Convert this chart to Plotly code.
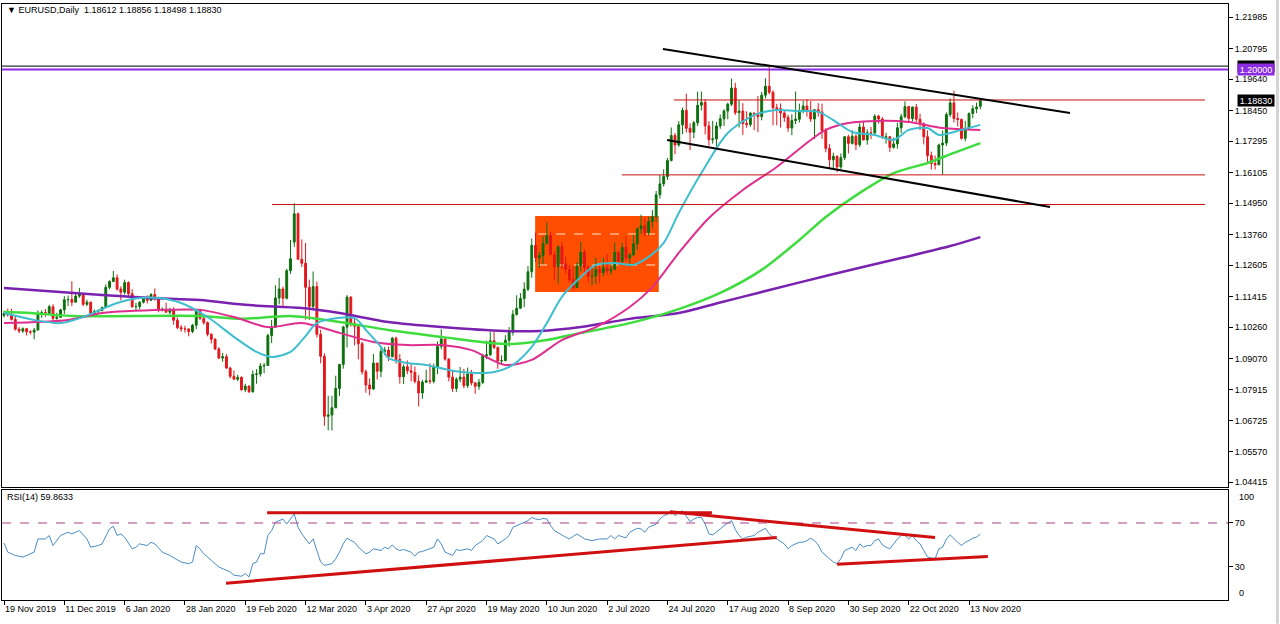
import pandas as pd
import plotly.graph_objects as go

# ---------------- DATA ----------------
bdays = pd.bdate_range("2019-11-19", "2020-11-18")
bdays = bdays[~bdays.isin(pd.to_datetime(["2019-12-25", "2020-01-01"]))]
dates = list(bdays)
bars = list(range(len(dates)))

open_ = [
 1.1071,1.1078,1.1073,1.1056,1.1019,1.1012,1.1021,1.1009,1.1008,
 1.1016,1.1078,1.1082,1.1078,1.1104,1.1060,1.1064,1.1092,1.1130,1.1131,1.1121,1.1144,1.1150,1.1113,1.1121,1.1077,1.1087,1.1090,1.1101,1.1177,1.1199,
 1.1213,1.1171,1.1159,1.1195,1.1153,1.1104,1.1105,1.1121,1.1135,1.1128,1.1150,1.1136,1.1091,1.1094,1.1083,1.1093,1.1053,1.1025,1.1020,1.1020,1.1010,1.1034,
 1.1093,1.1060,1.1044,1.1000,1.0981,1.0944,1.0910,1.0915,1.0872,1.0841,1.0830,1.0837,1.0790,1.0804,1.0783,1.0848,1.0850,1.0880,1.0882,1.0995,
 1.1026,1.1137,1.1171,1.1136,1.1240,1.1348,1.1455,1.1283,1.1268,1.1177,1.1105,1.1180,1.1000,1.0917,1.0690,1.0695,1.0722,1.0795,1.0886,1.1027,1.1140,1.1042,
 1.1030,1.0964,1.0858,1.0808,1.0793,1.0891,1.0860,1.0935,1.0940,1.0915,1.0985,1.0905,1.0839,1.0877,1.0862,1.0856,1.0822,1.0778,1.0819,1.0824,1.0822,1.0875,
 1.0954,1.0982,1.0906,1.0838,1.0795,1.0830,1.0838,1.0806,1.0850,1.0816,1.0803,1.0818,1.0918,1.0922,1.0975,1.0950,1.0899,1.0900,1.0977,1.1008,1.1075,
 1.1098,1.1135,1.1170,1.1236,1.1336,1.1289,1.1297,1.1342,1.1373,1.1300,1.1256,1.1330,1.1265,1.1245,1.1206,1.1176,1.1258,1.1309,1.1252,1.1219,1.1220,1.1244,
 1.1233,1.1251,1.1239,1.1245,1.1310,1.1275,1.1328,1.1288,1.1300,1.1342,1.1398,1.1410,1.1384,1.1426,1.1444,1.1527,1.1568,1.1596,1.1656,1.1751,1.1715,1.1791,1.1846,
 1.1778,1.1763,1.1799,1.1865,1.1876,1.1787,1.1735,1.1738,1.1787,1.1814,1.1843,1.1869,1.1930,1.1837,1.1843,1.1796,1.1792,1.1835,1.1830,1.1822,1.1903,
 1.1937,1.1914,1.1856,1.1852,1.1836,1.1819,1.1779,1.1807,1.1812,1.1845,1.1862,1.1845,1.1813,1.1848,1.1840,1.1770,1.1702,1.1659,1.1672,1.1632,1.1667,1.1746,
 1.1721,1.1748,1.1716,1.1783,1.1734,1.1761,1.1760,1.1824,1.1813,1.1743,1.1746,1.1706,1.1719,1.1780,1.1822,1.1860,1.1815,1.1858,1.1812,1.1795,1.1746,1.1675,
 1.1645,1.1640,1.1715,1.1722,1.1830,1.1874,1.1815,1.1811,1.1740,1.1778,1.1834,1.1852,1.18612]

high = [
 1.1089,1.1097,1.1096,1.1072,1.1027,1.1026,1.1023,1.1015,1.1024,
 1.1090,1.1090,1.1095,1.1111,1.1113,1.1081,1.1096,1.1144,1.1146,1.1200,1.1154,1.1175,1.1152,1.1130,1.1123,1.1093,1.1093,1.1104,1.1188,1.1204,1.1239,
 1.1226,1.1181,1.1206,1.1200,1.1170,1.1118,1.1125,1.1139,1.1147,1.1155,1.1173,1.1142,1.1101,1.1119,1.1100,1.1102,1.1063,1.1035,1.1032,1.1023,1.1039,1.1096,
 1.1096,1.1064,1.1048,1.1003,1.0985,1.0951,1.0929,1.0925,1.0877,1.0863,1.0847,1.0841,1.0813,1.0807,1.0863,1.0868,1.0891,1.0892,1.1002,1.1054,
 1.1185,1.1213,1.1180,1.1247,1.1356,1.1495,1.1460,1.1358,1.1345,1.1206,1.1237,1.1199,1.1017,1.0928,1.0768,1.0767,1.0843,1.0887,1.1032,1.1148,1.1144,1.1060,
 1.1031,1.0972,1.0867,1.0833,1.0925,1.0892,1.0952,1.0952,1.0954,1.0990,1.0991,1.0925,1.0886,1.0901,1.0887,1.0878,1.0845,1.0828,1.0866,1.0890,1.0889,1.0973,
 1.1019,1.0989,1.0909,1.0860,1.0837,1.0876,1.0869,1.0874,1.0865,1.0820,1.0831,1.0926,1.0976,1.1009,1.1008,1.0953,1.0920,1.0996,1.1027,1.1092,1.1147,
 1.1155,1.1196,1.1258,1.1362,1.1384,1.1311,1.1369,1.1422,1.1386,1.1314,1.1337,1.1349,1.1293,1.1260,1.1256,1.1272,1.1349,1.1320,1.1262,1.1247,1.1289,1.1259,
 1.1289,1.1303,1.1263,1.1346,1.1315,1.1345,1.1371,1.1307,1.1375,1.1403,1.1452,1.1440,1.1444,1.1469,1.1541,1.1601,1.1623,1.1666,1.1781,1.1760,1.1805,1.1856,1.1909,
 1.1797,1.1806,1.1916,1.1917,1.1888,1.1805,1.1806,1.1802,1.1830,1.1850,1.1875,1.1966,1.1950,1.1884,1.1873,1.1842,1.1840,1.1838,1.1900,1.1915,1.1967,
 1.2011,1.1921,1.1870,1.1872,1.1845,1.1829,1.1831,1.1917,1.1871,1.1882,1.1888,1.1881,1.1851,1.1873,1.1871,1.1778,1.1718,1.1686,1.1676,1.1683,1.1749,1.1754,
 1.1771,1.1755,1.1797,1.1806,1.1774,1.1783,1.1831,1.1829,1.1821,1.1761,1.1749,1.1743,1.1799,1.1833,1.1880,1.1862,1.1860,1.1870,1.1833,1.1800,1.1770,1.1690,
 1.1675,1.1720,1.1770,1.1838,1.1891,1.1920,1.1838,1.1815,1.1806,1.1838,1.1865,1.1875,1.18856]

low = [
 1.1063,1.1066,1.1052,1.1014,1.1004,1.1005,1.0995,1.0999,1.0981,
 1.1014,1.1062,1.1066,1.1073,1.1040,1.1055,1.1064,1.1076,1.1107,1.1106,1.1120,1.1137,1.1106,1.1106,1.1066,1.1069,1.1080,1.1086,1.1100,1.1170,1.1198,
 1.1164,1.1128,1.1150,1.1144,1.1099,1.1089,1.1094,1.1116,1.1116,1.1126,1.1127,1.1083,1.1086,1.1082,1.1075,1.1036,1.1019,1.1009,1.1006,1.0992,1.1004,1.1019,
 1.1054,1.1036,1.0992,1.0965,1.0941,1.0906,1.0896,1.0870,1.0833,1.0827,1.0823,1.0787,1.0781,1.0778,1.0779,1.0813,1.0840,1.0853,1.0880,1.0967,
 1.1026,1.1113,1.1108,1.1131,1.1228,1.1330,1.1283,1.1254,1.1055,1.1054,1.1095,1.0988,1.0890,1.0654,1.0637,1.0636,1.0722,1.0767,1.0870,1.0950,1.1029,1.0958,
 1.0905,1.0847,1.0779,1.0769,1.0790,1.0829,1.0838,1.0921,1.0899,1.0913,1.0889,1.0813,1.0812,1.0849,1.0822,1.0814,1.0727,1.0756,1.0816,1.0812,1.0814,1.0849,
 1.0943,1.0900,1.0822,1.0782,1.0782,1.0818,1.0796,1.0797,1.0807,1.0775,1.0790,1.0812,1.0906,1.0918,1.0944,1.0870,1.0885,1.0898,1.0953,1.0995,1.1070,
 1.1096,1.1102,1.1163,1.1213,1.1273,1.1251,1.1264,1.1339,1.1300,1.1205,1.1191,1.1246,1.1229,1.1196,1.1168,1.1175,1.1237,1.1236,1.1197,1.1185,1.1190,1.1192,
 1.1219,1.1225,1.1225,1.1243,1.1262,1.1261,1.1276,1.1254,1.1295,1.1318,1.1379,1.1370,1.1373,1.1402,1.1425,1.1512,1.1558,1.1583,1.1653,1.1680,1.1708,1.1756,1.1762,
 1.1696,1.1740,1.1787,1.1845,1.1755,1.1712,1.1720,1.1710,1.1776,1.1787,1.1812,1.1862,1.1828,1.1781,1.1753,1.1780,1.1784,1.1771,1.1763,1.1808,1.1891,
 1.1906,1.1789,1.1789,1.1781,1.1802,1.1765,1.1752,1.1794,1.1800,1.1834,1.1822,1.1802,1.1737,1.1822,1.1738,1.1687,1.1627,1.1627,1.1612,1.1625,1.1658,1.1683,
 1.1717,1.1696,1.1707,1.1733,1.1716,1.1737,1.1758,1.1796,1.1738,1.1720,1.1689,1.1701,1.1701,1.1760,1.1816,1.1801,1.1804,1.1801,1.1771,1.1717,1.1650,1.1622,
 1.1622,1.1639,1.1602,1.1711,1.1820,1.1800,1.1785,1.1735,1.1729,1.1772,1.1816,1.1835,1.18498]

close = [
 1.1078,1.1073,1.1056,1.1019,1.1012,1.1021,1.1009,1.1008,1.1016,
 1.1078,1.1082,1.1078,1.1104,1.1060,1.1064,1.1092,1.1130,1.1131,1.1121,1.1144,1.1150,1.1113,1.1121,1.1077,1.1087,1.1090,1.1101,1.1177,1.1199,1.1213,
 1.1171,1.1159,1.1195,1.1153,1.1104,1.1105,1.1121,1.1135,1.1128,1.1150,1.1136,1.1091,1.1094,1.1083,1.1093,1.1053,1.1025,1.1020,1.1020,1.1010,1.1034,1.1093,
 1.1060,1.1044,1.1000,1.0981,1.0944,1.0910,1.0915,1.0872,1.0841,1.0830,1.0837,1.0790,1.0804,1.0783,1.0848,1.0850,1.0880,1.0882,1.0995,1.1026,
 1.1137,1.1171,1.1136,1.1240,1.1285,1.1455,1.1283,1.1268,1.1177,1.1105,1.1180,1.1000,1.0917,1.0690,1.0695,1.0722,1.0795,1.0886,1.1027,1.1140,1.1042,1.1030,
 1.0964,1.0858,1.0808,1.0793,1.0891,1.0860,1.0935,1.0940,1.0915,1.0985,1.0905,1.0839,1.0877,1.0862,1.0856,1.0822,1.0778,1.0819,1.0824,1.0822,1.0875,1.0954,
 1.0982,1.0906,1.0838,1.0795,1.0830,1.0838,1.0806,1.0850,1.0816,1.0803,1.0818,1.0918,1.0922,1.0975,1.0950,1.0899,1.0900,1.0977,1.1008,1.1075,1.1098,
 1.1135,1.1170,1.1236,1.1336,1.1289,1.1297,1.1342,1.1373,1.1300,1.1256,1.1330,1.1265,1.1245,1.1206,1.1176,1.1258,1.1309,1.1252,1.1219,1.1220,1.1244,1.1233,
 1.1251,1.1239,1.1245,1.1310,1.1275,1.1328,1.1288,1.1300,1.1342,1.1398,1.1410,1.1384,1.1426,1.1444,1.1527,1.1568,1.1596,1.1656,1.1751,1.1715,1.1791,1.1846,1.1778,
 1.1763,1.1799,1.1865,1.1876,1.1787,1.1735,1.1738,1.1787,1.1814,1.1843,1.1869,1.1930,1.1837,1.1843,1.1796,1.1792,1.1835,1.1830,1.1822,1.1903,1.1937,
 1.1914,1.1856,1.1852,1.1836,1.1819,1.1779,1.1807,1.1812,1.1845,1.1862,1.1845,1.1813,1.1848,1.1840,1.1770,1.1702,1.1659,1.1672,1.1632,1.1667,1.1746,1.1721,
 1.1748,1.1716,1.1783,1.1734,1.1761,1.1760,1.1824,1.1813,1.1743,1.1746,1.1706,1.1719,1.1780,1.1822,1.1860,1.1815,1.1858,1.1812,1.1795,1.1746,1.1675,1.1645,
 1.1640,1.1715,1.1722,1.1830,1.1874,1.1815,1.1811,1.1740,1.1778,1.1834,1.1852,1.1858,1.18830]

# moving averages: (bar, value)
ma_cyan_bar = [0,8,15,21,30,36,41,47,54,61,67,71,76,80,83,93,96,100,102,107,112,118,124,130,135,140,144,148,153,157,162,167,171,175,179,185,192,199,205,210,216,220,225,231,236,240,245,248,254,259]
ma_cyan_val = [1.1080,1.1054,1.1042,1.1065,1.1118,1.1137,1.1137,1.1118,1.1065,1.0990,1.0933,1.0914,1.0933,1.0993,1.1042,1.1061,1.1016,1.0952,1.0910,1.0891,1.0884,1.0865,1.0854,1.0857,1.0884,1.0952,1.1042,1.1141,1.1216,1.1262,1.1269,1.1262,1.1292,1.1345,1.1458,1.1609,1.1760,1.1828,1.1847,1.1843,1.1840,1.1809,1.1764,1.1753,1.1734,1.1772,1.1779,1.1753,1.1772,1.1791]
ma_pink_bar = [0,17,26,43,52,61,70,79,89,98,107,116,124,133,140,148,157,166,172,179,187,196,205,214,218,224,232,240,249,259]
ma_pink_val = [1.1042,1.1054,1.1080,1.1092,1.1092,1.1065,1.1027,1.1042,1.1005,1.0971,1.0959,1.0959,1.0940,1.0884,1.0903,1.0978,1.1027,1.1103,1.1178,1.1307,1.1439,1.1545,1.1632,1.1734,1.1772,1.1798,1.1806,1.1802,1.1779,1.1772]
ma_green_bar = [0,7,18,52,63,76,89,102,116,129,135,144,153,166,179,190,201,211,218,227,236,245,252,259]
ma_green_val = [1.1084,1.1080,1.1069,1.1069,1.1058,1.1069,1.1046,1.1016,1.0990,1.0967,1.0963,1.0978,1.1005,1.1042,1.1095,1.1156,1.1243,1.1356,1.1443,1.1534,1.1609,1.1647,1.1685,1.1722]
ma_purple_bar = [0,26,39,52,65,79,89,102,116,133,142,153,166,179,190,200,219,238,251,259]
ma_purple_val = [1.1175,1.1148,1.1137,1.1129,1.1110,1.1099,1.1080,1.1046,1.1027,1.1012,1.1012,1.1027,1.1058,1.1080,1.1120,1.1156,1.1224,1.1288,1.1333,1.1367]

# RSI(14)
rsi_bar = [0,1,3,5,8,9,11,12,13,15,17,18,20,22,23,25,26,28,29,30,31,32,34,35,36,38,39,40,42,43,44,47,49,50,51,52,53,55,57,60,61,63,64,65,66,67,68,69,70,71,72,74,75,76,77,78,79,81,82,83,84,85,86,87,88,89,90,91,92,93,94,96,97,98,100,101,102,103,104,105,106,108,109,110,111,114,115,116,117,119,120,121,123,124,125,127,128,130,131,133,134,135,137,139,140,141,142,143,144,145,146,148,149,150,152,154,156,158,160,161,162,163,165,166,168,
           169,170,171,173,174,175,176,177,178,179,180,181,182,183,184,185,186,187,188,190,191,193,194,195,196,197,199,200,202,203,204,205,207,208,209,211,212,213,214,215,216,217,219,220,221,222,223,224,225,226,227,228,229,230,231,232,233,234,235,236,237,238,239,240,241,242,243,244,245,247,248,249,250,251,252,253,254,255,256,257,258,259]
rsi_val = [51.9,43.5,40.5,39.0,43.5,55.5,55.5,58.6,49.5,58.6,61.6,60.1,63.1,55.5,48.0,49.5,51.0,64.6,67.0,58.6,60.1,57.1,46.5,48.0,51.0,49.5,52.5,51.0,43.5,42.0,40.5,34.5,33.0,34.5,49.5,46.5,42.0,36.0,30.0,25.5,22.5,21.6,24.0,21.0,33.0,34.5,42.0,42.0,58.6,63.1,70.6,73.6,69.1,73.6,78.1,66.1,60.1,51.0,55.5,45.0,34.5,31.5,32.1,33.0,37.5,43.5,51.0,56.2,54.1,52.5,48.0,42.0,43.5,46.5,45.0,48.0,46.5,50.1,46.5,45.0,45.9,43.5,39.9,43.5,44.1,48.0,55.5,51.0,43.5,40.5,45.9,45.0,46.5,45.0,49.5,54.0,58.6,55.5,51.0,55.5,58.6,66.1,69.1,72.1,75.1,73.6,73.0,74.2,73.6,67.6,63.1,58.6,57.1,55.5,60.1,55.5,54.0,55.5,55.5,58.6,55.5,58.6,56.5,61.6,65.2,
           64.6,61.6,66.1,69.1,73.6,76.6,78.1,81.1,76.6,79.6,81.1,76.6,71.2,73.6,75.1,75.1,69.1,60.1,59.2,64.6,67.6,72.1,64.0,58.6,55.5,57.1,58.6,61.6,65.2,60.1,57.1,55.5,51.0,46.5,49.5,52.5,52.5,54.0,56.2,54.0,50.0,43.5,37.5,34.5,33.0,37.5,45.0,46.5,48.0,45.0,51.0,48.0,49.5,49.5,54.0,55.5,50.0,48.0,46.5,51.0,55.5,58.6,58.6,55.5,58.6,54.0,51.0,45.0,39.0,37.5,46.5,48.0,55.5,59.2,55.5,52.5,49.5,52.5,54.0,56.2,57.1,59.9]

tick_bars = [0,16,32,48,64,80,96,112,128,144,160,176,192,208,224,240,256]
tick_labels = ["19 Nov 2019","11 Dec 2019","6 Jan 2020","28 Jan 2020","19 Feb 2020","12 Mar 2020",
               "3 Apr 2020","27 Apr 2020","19 May 2020","10 Jun 2020","2 Jul 2020","24 Jul 2020",
               "17 Aug 2020","8 Sep 2020","30 Sep 2020","22 Oct 2020","13 Nov 2020"]
price_ticks = [1.21985,1.20795,1.19640,1.18450,1.17295,1.16105,1.14950,1.13760,1.12605,
               1.11415,1.10260,1.09070,1.07915,1.06725,1.05570,1.04415]

# drawn objects (bar, price)
level_purple = 1.2000
level_black = 1.2013
red_levels = [(177.7, 1.1885), (163.9, 1.1602), (71.1, 1.1490)]
red_level_end = 318.6
upper_trend = [(174.8, 1.20776), (282.8, 1.18358)]
lower_trend = [(175.9, 1.17338), (277.5, 1.14807)]
box = dict(b0=140.9, b1=173.7, p0=1.11596, p1=1.14467)
box_dash = [1.13787, 1.12616]
rsi_lines = [((69.8, 79.3), (187.8, 79.3)), ((58.9, 15.3), (205.0, 56.8)),
             ((176.7, 80.2), (247.0, 56.8)), ((221.0, 32.4), (261.0, 39.6))]

# ---------------- FIGURE ----------------
FONT = "Liberation Sans"
GREEN_C = "#0C700C"
RED_C = "#E3161C"

fig = go.Figure()
fig.add_trace(go.Candlestick(
    x=bars, open=open_, high=high, low=low, close=close,
    increasing=dict(line=dict(color=GREEN_C, width=1), fillcolor=GREEN_C),
    decreasing=dict(line=dict(color=RED_C, width=1), fillcolor=RED_C),
    whiskerwidth=0, hoverinfo="skip", xaxis="x", yaxis="y"))

for bx, vals, col, w in [(ma_purple_bar, ma_purple_val, "#7A22B0", 2.5),
                         (ma_green_bar, ma_green_val, "#3EDC3E", 2.5),
                         (ma_pink_bar, ma_pink_val, "#DE2E8E", 2),
                         (ma_cyan_bar, ma_cyan_val, "#3EBECF", 2)]:
    fig.add_trace(go.Scatter(x=bx, y=vals, mode="lines",
                             line=dict(color=col, width=w, shape="spline", smoothing=0.8),
                             hoverinfo="skip", xaxis="x", yaxis="y"))

fig.add_trace(go.Scatter(x=rsi_bar, y=rsi_val, mode="lines",
                         line=dict(color="#4A8CC4", width=1),
                         hoverinfo="skip", xaxis="x2", yaxis="y2"))

shapes = []
# orange box + inner dashed lines
shapes.append(dict(type="rect", xref="x", yref="y", x0=box["b0"], x1=box["b1"],
                   y0=box["p0"], y1=box["p1"], fillcolor="#FF4E00",
                   line=dict(width=0), layer="below"))
for p in box_dash:
    shapes.append(dict(type="line", xref="x", yref="y", x0=box["b0"] + 0.8, x1=box["b1"] - 0.8,
                       y0=p, y1=p, line=dict(color="#FFE8D0", width=1, dash="dash"), layer="below"))
# horizontal levels
shapes.append(dict(type="line", xref="paper", yref="y", x0=0, x1=1, y0=level_black, y1=level_black,
                   line=dict(color="black", width=1)))
shapes.append(dict(type="line", xref="paper", yref="y", x0=0, x1=1, y0=level_purple, y1=level_purple,
                   line=dict(color="#8B2BE2", width=2)))
for b0, p in red_levels:
    shapes.append(dict(type="line", xref="x", yref="y", x0=b0, x1=red_level_end, y0=p, y1=p,
                       line=dict(color="#C81010", width=1)))
# trendlines
for (b0, p0), (b1, p1) in [upper_trend, lower_trend]:
    shapes.append(dict(type="line", xref="x", yref="y", x0=b0, x1=b1, y0=p0, y1=p1,
                       line=dict(color="black", width=2)))
# RSI 70 level
shapes.append(dict(type="line", xref="paper", yref="y2", x0=0, x1=1, y0=70, y1=70,
                   line=dict(color="#B0408A", width=1, dash="dash")))
for (b0, r0), (b1, r1) in rsi_lines:
    shapes.append(dict(type="line", xref="x2", yref="y2", x0=b0, x1=b1, y0=r0, y1=r1,
                       line=dict(color="#D01010", width=3)))
# outer light frame
shapes.append(dict(type="line", xref="paper", yref="paper", x0=1.0403, x1=1.0403, y0=-0.04, y1=1.01,
                   line=dict(color="#D4D4D4", width=3)))

annotations = [
    dict(text="\u25bc EURUSD,Daily  1.18612 1.18856 1.18498 1.18830", xref="paper", yref="paper",
         x=0.0025, y=0.9895, xanchor="left", yanchor="middle", showarrow=False,
         font=dict(family=FONT, size=9, color="black")),
    dict(text="RSI(14) 59.8633", xref="paper", yref="paper", x=0.0025, y=0.172,
         xanchor="left", yanchor="middle", showarrow=False,
         font=dict(family=FONT, size=9, color="black")),
    # price tag of the black level, mostly hidden behind the purple tag
    dict(text=" ", xref="paper", yref="y", x=1.0075, y=level_black, xanchor="left",
         yanchor="middle", showarrow=False, bgcolor="black", borderpad=0, width=36, height=11,
         font=dict(family=FONT, size=9, color="white")),
    dict(text="1.20000", xref="paper", yref="y", x=1.0075, y=level_purple, xanchor="left",
         yanchor="middle", showarrow=False, bgcolor="#8B2BE2", borderpad=0, width=36, height=11,
         font=dict(family=FONT, size=9, color="white")),
    dict(text="1.18830", xref="paper", yref="y", x=1.0075, y=close[-1], xanchor="left",
         yanchor="middle", showarrow=False, bgcolor="black", borderpad=0, width=36, height=11,
         font=dict(family=FONT, size=9, color="white")),
    dict(text="100", xref="paper", yref="y2", x=1.0075, y=100, xanchor="left", yanchor="top",
         showarrow=False, font=dict(family=FONT, size=9, color="black")),
    dict(text="0", xref="paper", yref="y2", x=1.0075, y=0, xanchor="left", yanchor="bottom",
         showarrow=False, font=dict(family=FONT, size=9, color="black")),
]

axis_common = dict(showgrid=False, zeroline=False, showline=True, mirror=True,
                   linecolor="black", linewidth=1)

fig.update_layout(
    width=1280, height=624, showlegend=False,
    margin=dict(l=2, r=52, t=4, b=24),
    paper_bgcolor="white", plot_bgcolor="white",
    shapes=shapes, annotations=annotations,
    xaxis=dict(domain=[0, 1], anchor="y", range=[-0.53, 324.7], showticklabels=False,
               ticks="", rangeslider=dict(visible=False), **axis_common),
    yaxis=dict(domain=[0.1896, 1], anchor="x", side="right", range=[1.04228, 1.22476],
               tickvals=price_ticks, ticktext=[f"{v:.5f}" for v in price_ticks],
               ticks="outside", ticklen=4, tickcolor="black",
               tickfont=dict(family=FONT, size=9, color="black"), **axis_common),
    xaxis2=dict(domain=[0, 1], anchor="y2", matches="x", range=[-0.53, 324.7],
                tickvals=tick_bars, ticktext=tick_labels, ticks="outside", ticklen=4,
                tickcolor="black", ticklabelposition="outside right",
                tickfont=dict(family=FONT, size=9, color="black"), **axis_common),
    yaxis2=dict(domain=[0, 0.1846], anchor="x2", side="right", range=[0, 100],
                tickvals=[30, 70], ticktext=["30", "70"], ticks="outside", ticklen=4,
                tickcolor="black", tickfont=dict(family=FONT, size=9, color="black"),
                **axis_common),
)

fig.write_html("out.html",
               config={"displayModeBar": False},
               post_script="document.body.style.margin='0';document.body.style.overflow='hidden';")
